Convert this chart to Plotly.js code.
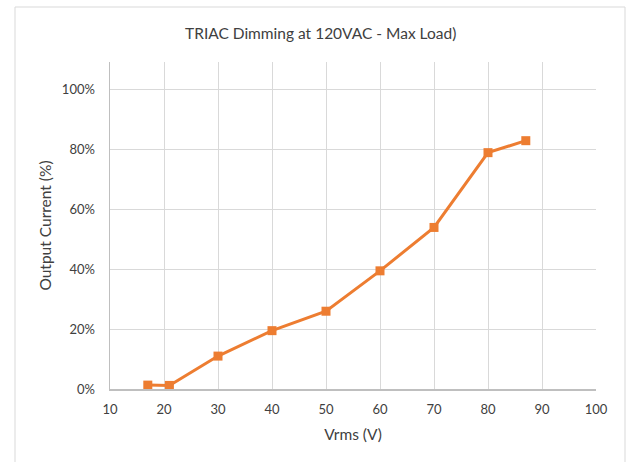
<!DOCTYPE html>
<html>
<head>
<meta charset="utf-8">
<script src="https://cdn.plot.ly/plotly-3.0.1.min.js"></script>
<style>
html,body{margin:0;padding:0;background:#fff;}
#chart{width:630px;height:462px;}
</style>
</head>
<body>
<div id="chart"></div>
<script>
const vrms = [17, 21, 30, 40, 50, 60, 70, 80, 87];
const outputCurrent = [0.013, 0.012, 0.11, 0.195, 0.26, 0.395, 0.54, 0.79, 0.83];
const xTicks = [10, 20, 30, 40, 50, 60, 70, 80, 90, 100];
const yTicks = [0, 0.2, 0.4, 0.6, 0.8, 1.0];

const fontFam = 'Lato, "Open Sans", "Liberation Sans", sans-serif';
const txt = '#404040';

const trace = {
  x: vrms, y: outputCurrent, type: 'scatter', mode: 'lines+markers',
  line: {color: '#ED7D31', width: 3},
  marker: {symbol: 'square', size: 9, color: '#ED7D31'},
  showlegend: false, hoverinfo: 'none'
};

const layout = {
  width: 630, height: 462,
  margin: {l: 110, r: 34, t: 62, b: 73},
  paper_bgcolor: '#fff', plot_bgcolor: '#fff',
  font: {family: fontFam, size: 13, color: txt},
  title: {text: 'TRIAC Dimming at 120VAC - Max Load)', x: 0.509, xanchor: 'center', y: 0.928, yanchor: 'middle',
          font: {family: fontFam, size: 15.5, color: txt}},
  xaxis: {
    range: [10, 100], tickvals: xTicks, ticktext: xTicks.map(String),
    showgrid: true, gridcolor: '#d9d9d9', gridwidth: 1,
    showline: true, linecolor: '#bfbfbf', linewidth: 1.5,
    zeroline: false, ticks: '', ticklabelstandoff: 8,
    title: {text: 'Vrms (V)', standoff: 13, font: {family: fontFam, size: 15.5, color: txt}}
  },
  yaxis: {
    range: [0, 1.093], tickvals: yTicks, tickformat: '.0%',
    showgrid: true, gridcolor: '#d9d9d9', gridwidth: 1,
    showline: true, linecolor: '#bfbfbf', linewidth: 1.5,
    zeroline: false, ticks: '', ticklabelstandoff: 11,
    title: {text: 'Output Current (%)', standoff: 6, font: {family: fontFam, size: 15.5, color: txt}}
  },
  shapes: [{
    type: 'rect', xref: 'paper', yref: 'paper',
    x0: (15 - 110) / 486, x1: (625 - 110) / 486,
    y0: (389 - 470) / 327, y1: (389 - 7) / 327,
    line: {color: '#d9d9d9', width: 1}, fillcolor: 'rgba(0,0,0,0)', layer: 'below'
  }]
};

Plotly.newPlot('chart', [trace], layout, {displayModeBar: false, staticPlot: true});
</script>
</body>
</html>
